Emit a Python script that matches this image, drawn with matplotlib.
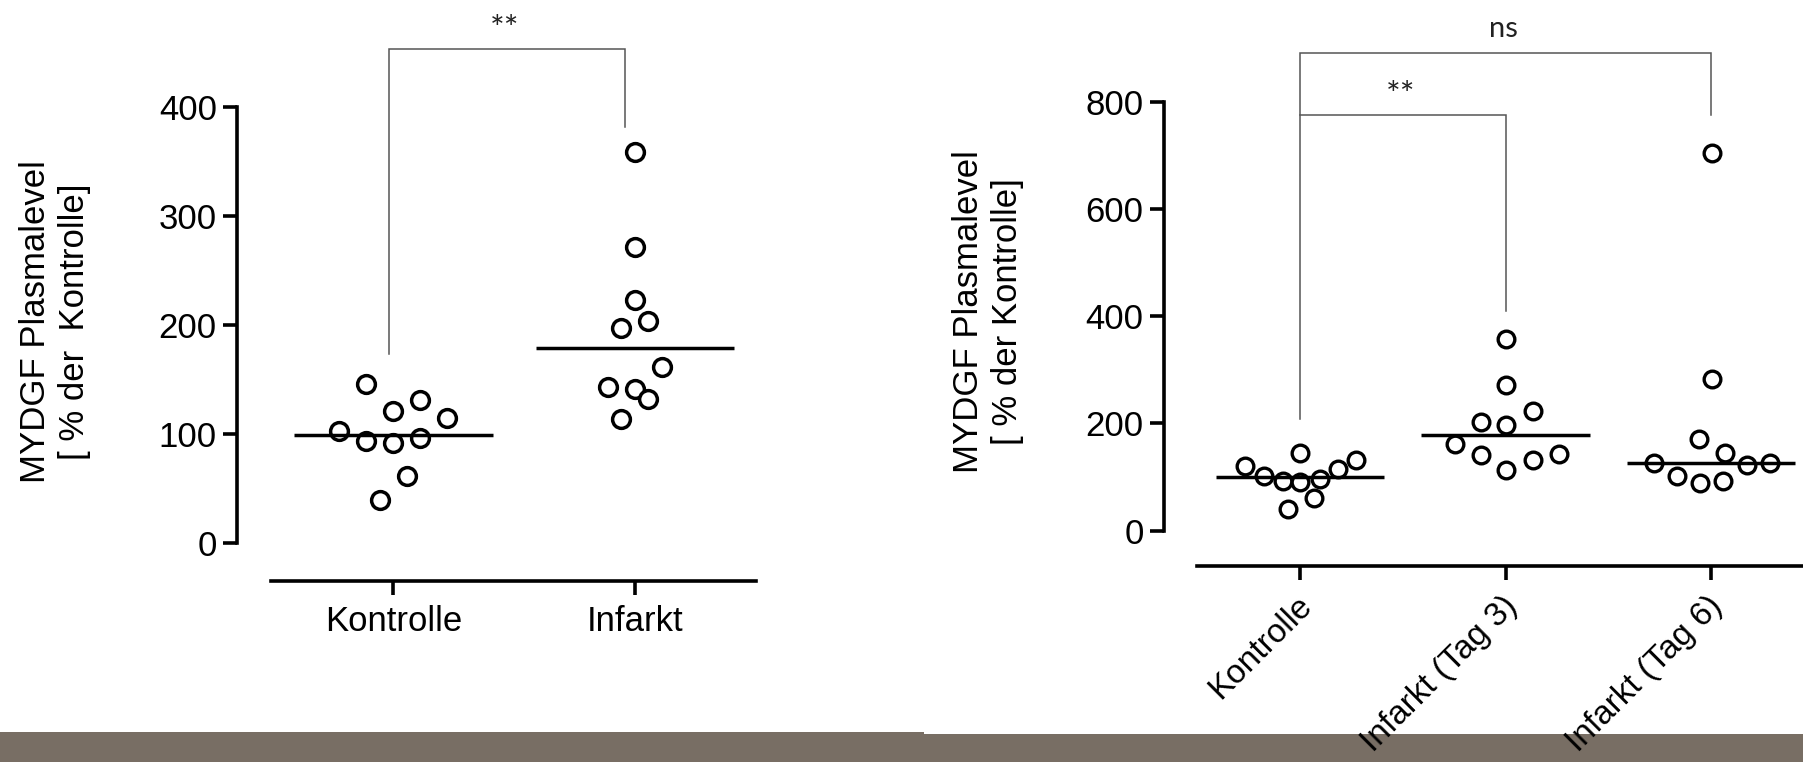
import matplotlib
matplotlib.use("Agg")
import matplotlib.pyplot as plt
import numpy as np
from matplotlib.patches import Rectangle
from matplotlib.transforms import ScaledTranslation

# ---------------- data: MYDGF plasma level, % of control ----------------
groups_left = ["Kontrolle", "Infarkt"]
groups_right = ["Kontrolle", "Infarkt (Tag 3)", "Infarkt (Tag 6)"]

kontrolle = [145.3, 131, 121, 114.7, 102.3, 93.4, 91.3, 95.9, 61.4, 39.4]
infarkt_tag3 = [358, 271, 222.5, 203.6, 196.6, 161.5, 143, 141, 131.6, 113.5]
infarkt_tag6 = [705, 283, 171, 144, 125.6, 122.5, 126.8, 102.5, 89.5, 93.2]

left_yticks = [0, 100, 200, 300, 400]
right_yticks = [0, 200, 400, 600, 800]

ylabel_left = "MYDGF Plasmalevel\n[ % der  Kontrolle]"
ylabel_right = "MYDGF Plasmalevel\n[ % der Kontrolle]"

# significance brackets: (label, x_left, x_right, y_leg_left, y_leg_right, y_top)
left_brackets = [("**", -0.02, 0.96, 173, 381, 453)]
right_brackets = [("ns", 0.0, 2.0, 208, 776, 892),
                  ("**", 0.0, 1.0, 776, 410, 776)]

# horizontal spread of the dots within a column (pixels)
left_ctrl_dx = [-27, 27, 0, 54, -54, -27, 0, 27, 13.5, -13.5]
left_inf_dx = [0, 0, 0, 13.5, -13.5, 27, -27, 0, 13.5, -13.5]
right_ctrl_dx = [0, 56, -55, 38, -36, -17, 0, 20, 14, -12]
right_tag3_dx = [0, 0, 27, -25, 0, -51, 53, -25, 27, 0]
right_tag6_dx = [1, 1, -12, 14, -57, 36, 59, -34, -11, 12]

# ---------------- figure ----------------
plt.rcParams["font.family"] = ["Liberation Sans", "DejaVu Sans"]
W, H = 1803, 762
DPI = 100
fig = plt.figure(figsize=(W / DPI, H / DPI), dpi=DPI)
fig.patch.set_facecolor("white")

# footer band of the slide
BAND = "#786e64"
fig.add_artist(Rectangle((0, 0), 924 / W, (H - 731.5) / H, transform=fig.transFigure,
                         facecolor=BAND, edgecolor="none", zorder=-2))
fig.add_artist(Rectangle((924 / W, 0), 1 - 924 / W, (H - 733.5) / H, transform=fig.transFigure,
                         facecolor=BAND, edgecolor="none", zorder=-2))


def px_axes(x0, x1, y_top, y_bottom):
    return fig.add_axes([x0 / W, 1 - y_bottom / H, (x1 - x0) / W, (y_bottom - y_top) / H])


def setup(ax, yticks, xlim, ylim, xbound):
    ax.set_facecolor("none")
    ax.set_xlim(*xlim)
    ax.set_ylim(*ylim)
    for s in ("top", "right"):
        ax.spines[s].set_visible(False)
    ax.spines["left"].set_bounds(yticks[0], yticks[-1])
    ax.spines["bottom"].set_bounds(*xbound)
    for s in ("left", "bottom"):
        ax.spines[s].set_linewidth(2.6)
        ax.spines[s].set_capstyle("projecting")
    ax.set_yticks(yticks)
    ax.set_yticklabels([str(t) for t in yticks])
    ax.tick_params(axis="y", length=10, width=2.6, labelsize=25, pad=4.5)
    ax.tick_params(axis="x", length=10, width=2.6, labelsize=25)


def px_per_cat(ax):
    return ax.transData.transform((1, 0))[0] - ax.transData.transform((0, 0))[0]


def draw_column(ax, pos, values, dx_px, ms, mew):
    ppc = px_per_cat(ax)
    x = pos + np.asarray(dx_px) / ppc
    ax.plot(x, values, "o", mfc="white", mec="black", ms=ms, mew=mew,
            clip_on=False, zorder=3)
    med = np.median(values)
    ax.plot([pos - 0.41, pos + 0.41], [med, med], color="black", lw=2.5,
            solid_capstyle="butt", zorder=4)


def draw_brackets(ax, brackets, text_dy):
    for label, xl, xr, yl, yr, yt in brackets:
        ax.plot([xl, xl, xr, xr], [yl, yt, yt, yr], color="#555555", lw=1.1,
                clip_on=False, zorder=2, solid_joinstyle="miter")
        size = 25 if label == "**" else 21
        dy = text_dy[label]
        ax.text((xl + xr) / 2 - 0.01, yt + dy, label, ha="center", va="baseline",
                fontsize=size, family=["Lato", "DejaVu Sans"], color="#222222",
                clip_on=False)


# ---- left panel ----
axL = px_axes(237, 770, 0, 581)
setup(axL, left_yticks, (-0.648, 1.559), (-34.8, 497.6), (-0.507, 1.5))
axL.set_xticks(range(len(groups_left)))
axL.set_xticklabels(groups_left)
axL.tick_params(axis="x", pad=7)
draw_column(axL, 0, kontrolle, left_ctrl_dx, 12.8, 2.5)
draw_column(axL, 1, infarkt_tag3, left_inf_dx, 12.8, 2.5)
draw_brackets(axL, left_brackets, {"**": 8})
fig.text(55 / W, 1 - 322 / H, ylabel_left, rotation=90, ha="center", va="center",
         multialignment="center", fontsize=25)

# ---- right panel ----
axR = px_axes(1163.8, 1803, 0, 566)
setup(axR, right_yticks, (-0.6647, 2.448), (-66.1, 990.4), (-0.503, 2.448))
axR.set_xticks(range(len(groups_right)))
axR.set_xticklabels(groups_right, rotation=45, ha="right", rotation_mode="anchor",
                    fontsize=24)
axR.tick_params(axis="x", pad=7.5)
shift = ScaledTranslation(-4 / DPI, 0, fig.dpi_scale_trans)
for lbl in axR.get_xticklabels():
    lbl.set_transform(lbl.get_transform() + shift)
draw_column(axR, 0, kontrolle, right_ctrl_dx, 12.0, 2.4)
draw_column(axR, 1, infarkt_tag3, right_tag3_dx, 12.0, 2.4)
draw_column(axR, 2, infarkt_tag6, right_tag6_dx, 12.0, 2.4)
draw_brackets(axR, right_brackets, {"**": 17, "ns": 30})
fig.text(988 / W, 1 - 312 / H, ylabel_right, rotation=90, ha="center", va="center",
         multialignment="center", fontsize=25)

fig.savefig("out.png", dpi=DPI, facecolor="white")
